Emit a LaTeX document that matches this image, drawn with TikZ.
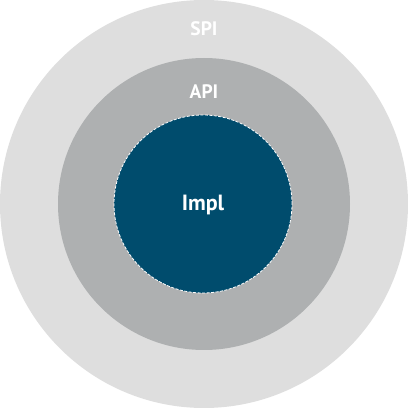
\documentclass[tikz,border=0pt]{standalone}
\usepackage{fontspec}
\setmainfont{PT Sans}
\definecolor{outerc}{HTML}{DEDEDE}
\definecolor{midc}{HTML}{AEB0B1}
\definecolor{innerc}{HTML}{004C6D}
\begin{document}
\begin{tikzpicture}[x=1pt,y=1pt,
  lbl/.style={text=white,font=\bfseries\fontsize{19.5}{22}\selectfont,inner sep=0pt,anchor=center}]
\useasboundingbox (0,0) rectangle (408,408);
\node[circle,fill=outerc,minimum size=408pt,inner sep=0pt] (spi) at (204,204) {};
\node[circle,fill=midc,minimum size=292pt,inner sep=0pt] (api) at (204,204) {};
\node[circle,fill=innerc,draw=white,line width=0.8pt,dash pattern=on 3pt off 1.5pt,minimum size=178pt,inner sep=0pt] (impl) at (203,204) {};
\node[lbl] (spit) at (204,379) {SPI};
\node[lbl] (apit) at (204,316) {API};
\node[lbl,font=\bfseries\fontsize{22}{24}\selectfont] (implt) at (203,203) {Impl};
\end{tikzpicture}
\end{document}
